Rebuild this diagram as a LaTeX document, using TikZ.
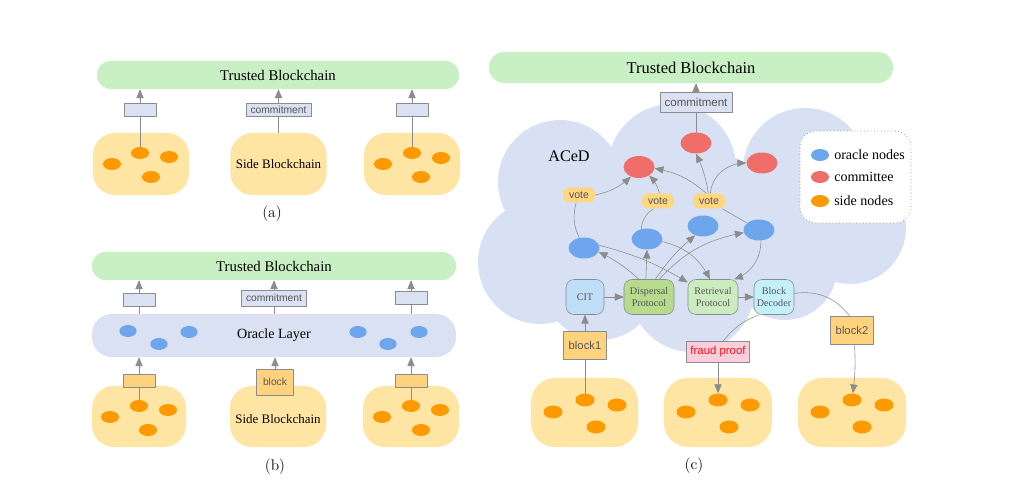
\documentclass[tikz,border=0pt]{standalone}
\usepackage{fontspec}
\usepackage{tikz}
\usetikzlibrary{arrows}
\usetikzlibrary{shapes.geometric}
\newfontfamily\timesfont{Liberation Serif}
\newfontfamily\arialfont{Liberation Sans}
\definecolor{c9f0c4}{RGB}{201,240,196}
\definecolor{ffe5a0}{RGB}{255,229,163}
\definecolor{ff9900}{RGB}{255,153,0}
\definecolor{d9e1f2}{RGB}{217,225,242}
\definecolor{d8e1f3}{RGB}{216,225,243}
\definecolor{6ea6ee}{RGB}{110,166,238}
\definecolor{f06e69}{RGB}{240,110,105}
\definecolor{ffd27d}{RGB}{255,210,125}
\definecolor{ffd682}{RGB}{255,214,130}
\definecolor{bedef8}{RGB}{190,222,248}
\definecolor{b6db8c}{RGB}{182,219,140}
\definecolor{cbecbe}{RGB}{203,236,190}
\definecolor{c4f0fa}{RGB}{196,240,250}
\definecolor{fccddc}{RGB}{252,205,220}
\definecolor{ee1111}{RGB}{238,17,17}
\definecolor{555555}{RGB}{85,85,85}
\definecolor{8c8c8c}{RGB}{140,140,140}
\tikzstyle{trusted}=[fill=c9f0c4,rounded corners=0.34cm,minimum height=0.7cm,inner sep=0pt,font=\timesfont\fontsize{10.5}{12}\selectfont]
\tikzstyle{sideblob}=[fill=ffe5a0,rounded corners=0.55cm,minimum width=2.4cm,minimum height=1.55cm,inner sep=0pt,font=\timesfont\fontsize{9.2}{11}\selectfont]
\tikzstyle{sidenode}=[ellipse,fill=ff9900,inner sep=0pt,minimum width=0.45cm,minimum height=0.3cm]
\tikzstyle{oraclenode}=[ellipse,fill=6ea6ee,inner sep=0pt,minimum width=0.43cm,minimum height=0.3cm]
\tikzstyle{msgbox}=[draw=8c8c8c,fill=d9e1f2,inner sep=0pt,minimum width=0.8cm,minimum height=0.325cm,text=555555,font=\arialfont\fontsize{7.3}{8}\selectfont]
\tikzstyle{blockbox}=[draw=8c8c8c,fill=ffd27d,inner sep=0pt,minimum width=0.8cm,minimum height=0.325cm,text=555555,font=\arialfont\fontsize{7.3}{8}\selectfont]
\tikzstyle{conn}=[color=8c8c8c,line width=0.4pt]
\tikzstyle{bignode}=[ellipse,inner sep=0pt,minimum width=0.775cm,minimum height=0.525cm]
\tikzstyle{votebox}=[fill=ffd682,rounded corners=0.15cm,inner sep=0pt,minimum width=0.8cm,minimum height=0.375cm,text=555555,font=\arialfont\fontsize{7.5}{8}\selectfont]
\tikzstyle{protobox}=[draw=8c8c8c,rounded corners=0.2cm,inner sep=0pt,minimum height=0.875cm,align=center,text=555555,font=\timesfont\fontsize{7.2}{8.5}\selectfont]
\tikzstyle{bigside}=[sidenode,minimum width=0.475cm,minimum height=0.325cm]
\tikzstyle{caption}=[font=\fontsize{11}{13}\selectfont]

\begin{document}
\begin{tikzpicture}[line cap=round,line join=round,>=triangle 45,x=0.025cm,y=-0.025cm]
\useasboundingbox (0,0) rectangle (1015,490);
% ---------- (a)
\node[trusted,minimum width=9.05cm] (tbA) at (278,75) {Trusted Blockchain};
\node[sideblob] (sbA1) at (141,164) {};
\node[sideblob] (sbA2) at (278.5,164) {Side Blockchain};
\node[sideblob] (sbA3) at (412,164) {};
\node[sidenode] (oA1a) at (140,153) {};
\node[sidenode] (oA1b) at (112,164) {};
\node[sidenode] (oA1c) at (169,157) {};
\node[sidenode] (oA1d) at (151,177) {};
\node[sidenode] (oA3a) at (412,153) {};
\node[sidenode] (oA3b) at (383,164) {};
\node[sidenode] (oA3c) at (441,158) {};
\node[sidenode] (oA3d) at (421,177) {};
\node[msgbox] (mA1) at (140,110) {};
\node[msgbox,minimum width=1.625cm] (mA2) at (278.5,110) {commitment};
\node[msgbox] (mA3) at (412,110) {};
\draw [->,conn] (mA1) -- (mA1 |- tbA.south);
\draw [->,conn] (mA2) -- (mA2 |- tbA.south);
\draw [->,conn] (mA3) -- (mA3 |- tbA.south);
\draw [conn] (mA1) -- (oA1a);
\draw [conn] (mA2) -- (sbA2);
\draw [conn] (mA3) -- (oA3a);
\node[caption] (capA) at (272,214) {(a)};
% ---------- (b)
\node[trusted,minimum width=9.1cm] (tbB) at (274,266) {Trusted Blockchain};
\node[trusted,fill=d9e1f2,minimum width=9.1cm,minimum height=1.075cm,rounded corners=0.5cm,font=\timesfont\fontsize{10}{12}\selectfont] (olB) at (274,335.5) {Oracle Layer};
\node[oraclenode] (bB1) at (128,331) {};
\node[oraclenode] (bB2) at (159,344) {};
\node[oraclenode] (bB3) at (189,332) {};
\node[oraclenode] (bB4) at (358,332) {};
\node[oraclenode] (bB5) at (388,344) {};
\node[oraclenode] (bB6) at (419,332) {};
\node[msgbox] (mB1) at (139,300) {};
\node[msgbox,minimum width=1.625cm,minimum height=0.4cm] (mB2) at (274,298) {commitment};
\node[msgbox] (mB3) at (411,298) {};
\draw [->,conn] (mB1) -- (mB1 |- tbB.south);
\draw [->,conn] (mB2) -- (mB2 |- tbB.south);
\draw [->,conn] (mB3) -- (mB3 |- tbB.south);
\draw [conn] (mB1) -- (mB1 |- olB.north);
\draw [conn] (mB2) -- (mB2 |- olB.north);
\draw [conn] (mB3) -- (mB3 |- olB.north);
\node[sideblob,minimum width=2.35cm,minimum height=1.525cm] (sbB1) at (139,416.5) {};
\node[sideblob,minimum height=1.525cm] (sbB2) at (278,416.5) {};
\node[sideblob,minimum height=1.525cm] (sbB3) at (411,416.5) {};
\node[font=\timesfont\fontsize{9.2}{11}\selectfont] (sbtB) at (278,419) {Side Blockchain};
\node[sidenode] (oB1a) at (139,406) {};
\node[sidenode] (oB1b) at (110,417) {};
\node[sidenode] (oB1c) at (168,410) {};
\node[sidenode] (oB1d) at (148,430) {};
\node[sidenode] (oB3a) at (411,406) {};
\node[sidenode] (oB3b) at (382,417) {};
\node[sidenode] (oB3c) at (440,410) {};
\node[sidenode] (oB3d) at (421,430) {};
\node[blockbox] (kB1) at (139,381) {};
\node[blockbox,minimum width=0.925cm,minimum height=0.65cm] (kB2) at (275,382) {block};
\node[blockbox] (kB3) at (411,381) {};
\draw [->,conn] (kB1) -- (kB1 |- olB.south);
\draw [->,conn] (kB2) -- (kB2 |- olB.south);
\draw [->,conn] (kB3) -- (kB3 |- olB.south);
\draw [conn] (kB1) -- (oB1a);
\draw [conn] (kB3) -- (oB3a);
\node[caption] (capB) at (275,467) {(b)};
% ---------- (c) cloud
\fill [color=d8e1f3] (560,182) circle (62);
\fill [color=d8e1f3] (540,262) circle (62);
\fill [color=d8e1f3] (672,168) circle (64);
\fill [color=d8e1f3] (805,170) circle (62);
\fill [color=d8e1f3] (850,228) circle (56);
\fill [color=d8e1f3] (785,268) circle (52);
\fill [color=d8e1f3] (692,290) circle (62);
\fill [color=d8e1f3] (600,282) circle (58);
\fill [color=d8e1f3] (690,230) circle (85);
\node[trusted,minimum width=10.1cm,minimum height=0.775cm,rounded corners=0.38cm,font=\timesfont\fontsize{11.7}{13}\selectfont] (tbC) at (691,67.5) {Trusted Blockchain};
\node[font=\timesfont\fontsize{11.5}{13}\selectfont] (aced) at (569,156) {ACeD};
\node[msgbox,minimum width=1.8cm,minimum height=0.5cm,font=\arialfont\fontsize{8.2}{9}\selectfont] (cmC) at (696,102) {commitment};
\node[bignode,fill=f06e69] (rT) at (696,143) {};
\node[bignode,fill=f06e69,minimum height=0.55cm] (rL) at (639,167) {};
\node[bignode,fill=f06e69] (rR) at (762,163) {};
\node[votebox] (vL) at (579,195) {vote};
\node[votebox] (vM) at (658,201) {vote};
\node[votebox] (vR) at (709,201) {vote};
\node[bignode,fill=6ea6ee] (b1) at (584,248) {};
\node[bignode,fill=6ea6ee] (b2) at (647,239) {};
\node[bignode,fill=6ea6ee] (b3) at (703,226) {};
\node[bignode,fill=6ea6ee] (b4) at (759,230) {};
\node[protobox,fill=bedef8,minimum width=0.95cm] (cit) at (585,297) {CIT};
\node[protobox,fill=b6db8c,minimum width=1.25cm] (disp) at (649,297) {Dispersal\\Protocol};
\node[protobox,fill=cbecbe,minimum width=1.25cm] (retr) at (713,297) {Retrieval\\Protocol};
\node[protobox,fill=c4f0fa,minimum width=1.0cm] (bdec) at (774,297) {Block\\Decoder};
\node[blockbox,minimum width=1.075cm,minimum height=0.7cm,font=\arialfont\fontsize{8}{9}\selectfont] (blk1) at (585,345) {block1};
\node[blockbox,minimum width=1.075cm,minimum height=0.7cm,font=\arialfont\fontsize{8}{9}\selectfont] (blk2) at (852,330) {block2};
\node[blockbox,fill=fccddc,text=ee1111,minimum width=1.575cm,minimum height=0.525cm,font=\arialfont\fontsize{8.1}{9}\selectfont] (fraud) at (718,352) {fraud proof};
% legend
\node[draw=8c8c8c,dotted,fill=white,rounded corners=0.4cm,minimum width=2.775cm,minimum height=2.3cm] (legend) at (855.5,177) {};
\node[oraclenode,minimum width=0.45cm] (lgO) at (820,155) {};
\node[bignode,fill=f06e69,minimum width=0.45cm,minimum height=0.3cm] (lgC) at (820,177) {};
\node[sidenode] (lgS) at (820,201) {};
\node[anchor=west,font=\timesfont\fontsize{10}{12}\selectfont] at (lgO.east) {oracle nodes};
\node[anchor=west,font=\timesfont\fontsize{10}{12}\selectfont] at (lgC.east) {committee};
\node[anchor=west,font=\timesfont\fontsize{10}{12}\selectfont] at (lgS.east) {side nodes};
% side chains
\node[sideblob,minimum width=2.675cm,minimum height=1.725cm,rounded corners=0.6cm] (sbC1) at (584.5,412.5) {};
\node[sideblob,minimum width=2.7cm,minimum height=1.725cm,rounded corners=0.6cm] (sbC2) at (718,412.5) {};
\node[sideblob,minimum width=2.7cm,minimum height=1.725cm,rounded corners=0.6cm] (sbC3) at (852,412.5) {};
\node[bigside] (oC1a) at (585,400) {};
\node[bigside] (oC1b) at (553,412) {};
\node[bigside] (oC1c) at (617,405) {};
\node[bigside] (oC1d) at (596,427) {};
\node[bigside] (oC2a) at (718,400) {};
\node[bigside] (oC2b) at (686,412) {};
\node[bigside] (oC2c) at (750,405) {};
\node[bigside] (oC2d) at (729,427) {};
\node[bigside] (oC3a) at (852,400) {};
\node[bigside] (oC3b) at (820,412) {};
\node[bigside] (oC3c) at (884,405) {};
\node[bigside] (oC3d) at (862,427) {};
% connectors
\draw [->,conn] (cmC) -- (cmC |- tbC.south);
\draw [conn] (rT) -- (cmC);
\draw [conn] (b1.115) to[bend left=20] (vL.250);
\draw [conn] (b2.120) to[bend left=25] (vM.240);
\draw [conn] (b4.150) -- (vR.-30);
\draw [->,conn] (vL.east) to[bend right=15] (rL.230);
\draw [->,conn] (vM.80) to[bend right=15] (rL.-40);
\draw [->,conn] (vR.110) to[bend right=15] (rL.-5);
\draw [->,conn] (vR.95) to[bend right=8] (rT.south);
\draw [->,conn] (vR.80) to[out=85,in=180] (rR.west);
\draw [->,conn] (disp.100) -- (b2.south);
\draw [->,conn] (disp.70) to[bend left=8] (b3.230);
\draw [->,conn] (disp.60) to[bend left=18] (b4.190);
\draw [->,conn] (disp.120) to[bend right=8] (b1.-15);
\draw [->,conn] (b1.10) to[bend left=8] (retr.150);
\draw [->,conn] (b2.-10) to[bend left=25] (retr.100);
\draw [->,conn] (b4.-80) to[bend left=35] (retr.40);
\draw [->,conn] (cit) -- (disp);
\draw [->,conn] (retr) -- (bdec);
\draw [conn] (bdec.10) to[bend left=30] (blk2.100);
\draw [->,conn] (blk2.-80) to[bend left=5] (oC3a);
\draw [conn] (bdec.230) to[bend right=15] (fraud.65);
\draw [->,conn] (fraud) -- (oC2a);
\draw [conn] (oC1a) -- (blk1);
\draw [->,conn] (blk1) -- (cit);
\node[caption] (capC) at (694,466) {(c)};
\end{tikzpicture}
\end{document}
